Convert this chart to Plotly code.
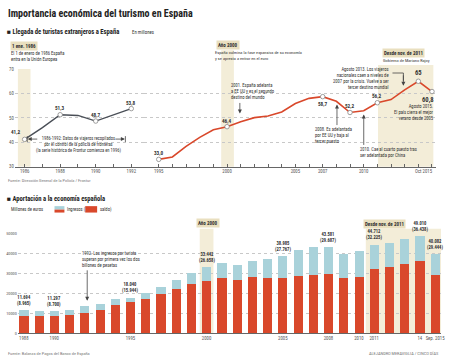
import plotly.graph_objects as go

W, H = 450, 363
def px(x): return x / W
def py(y): return 1 - y / H

# ---------------- data ----------------
years_a = [1986, 1987, 1988, 1989, 1990, 1991, 1992]
turistas_a = [41.2, 46.0, 51.3, 51.0, 48.7, 51.2, 53.8]
years_b = list(range(1995, 2016))
turistas_b = [33.0, 34.0, 38.3, 42.0, 45.1, 46.4, 48.4, 50.1, 50.8, 52.4, 55.9,
              58.0, 58.7, 56.8, 52.2, 52.9, 56.2, 57.5, 61.5, 65.0, 60.8]
lbl_years_a = [1986, 1988, 1990, 1992]
lbl_text_a = ["41,2", "51,3", "48,7", "53,8"]
lbl_years_b = [1995, 2000, 2007, 2009, 2011, 2014, 2015]
lbl_text_b = ["33,0", "46,4", "58,7", "52,2", "56,2", "65", "60,8"]
ticks_a = [1986, 1988, 1990, 1992]
ticks_b = [1995, 2000, 2005, 2007, 2010]
last_tick_b = "Oct 2015"

years_c = list(range(1988, 2016))
ingresos = [11694, 11500, 11297, 11900, 13700, 15000, 17300, 18040, 20500, 23600,
            26900, 30200, 33442, 35500, 34600, 36300, 37600, 38985, 42000, 43700,
            43581, 40100, 41400, 44712, 45500, 47500, 49010, 40082]
saldo = [8965, 8800, 8700, 9100, 10300, 11800, 14500, 15944, 17300, 19800,
         22300, 24750, 26658, 28000, 26900, 28200, 28000, 27767, 28900, 29400,
         29687, 27700, 28500, 32225, 33500, 35100, 36438, 29444]
lbl_years_c = [1988, 1990, 1995, 2000, 2005, 2008, 2011, 2014, 2015]
ticks_c = [1988, 1990, 1995, 2000, 2005, 2008, 2010, 2011, 2014, 2015]
ticktext_c = ["1988", "1990", "1995", "2000", "2005", "2008", "2010", "2011", "14", "Sep. 2015"]

# ---------------- style ----------------
FONT = "Liberation Sans Narrow, Arial Narrow, Roboto Condensed, Liberation Sans, sans-serif"
RED = "#d9482b"
BLUE = "#a9d2da"
BEIGE = "#f3edd8"
BEIGE_LBL = "#e9dfbf"
TXT = "#333333"
GRID = "#c8c8c8"
FS = 4.6

fig = go.Figure()

# top chart traces
fig.add_trace(go.Scatter(x=years_a, y=turistas_a, mode="lines", xaxis="x", yaxis="y",
                         line=dict(color="#4a4f57", width=1.4), hoverinfo="skip"))
fig.add_trace(go.Scatter(x=years_b, y=turistas_b, mode="lines", xaxis="x2", yaxis="y",
                         line=dict(color=RED, width=1.6), hoverinfo="skip"))
ma = [turistas_a[years_a.index(y)] for y in lbl_years_a]
mb = [turistas_b[years_b.index(y)] for y in lbl_years_b]
fig.add_trace(go.Scatter(x=lbl_years_a, y=ma, mode="markers", xaxis="x", yaxis="y",
                         marker=dict(size=4.5, color="white", line=dict(color="#888", width=0.8))))
fig.add_trace(go.Scatter(x=lbl_years_b, y=mb, mode="markers", xaxis="x2", yaxis="y",
                         marker=dict(size=4.5, color="white", line=dict(color="#888", width=0.8))))

# bottom chart traces
fig.add_trace(go.Bar(x=years_c, y=ingresos, xaxis="x3", yaxis="y3", width=0.6,
                     marker=dict(color=BLUE, line=dict(width=0)), name="Ingresos"))
fig.add_trace(go.Bar(x=years_c, y=saldo, xaxis="x3", yaxis="y3", width=0.6,
                     marker=dict(color=RED, line=dict(width=0)), name="saldo"))

def fmt_th(v):
    return f"{v:,}".replace(",", ".")

ann = []
def A(text, x, y, size=FS, bold=False, xa="left", ya="middle", color=TXT, bg=None, align="left"):
    t = f"<b>{text}</b>" if bold else text
    d = dict(text=t, x=px(x), y=py(y), xref="paper", yref="paper", showarrow=False,
             xanchor=xa, yanchor=ya, align=align,
             font=dict(size=size, color=color, family=FONT))
    if bg:
        d.update(bgcolor=bg, borderpad=1)
    ann.append(d)

def ARROW(x, y, ax, ay, width=0.8):
    ann.append(dict(text="", x=px(x), y=py(y), xref="paper", yref="paper", showarrow=True,
                    ax=ax, ay=ay, arrowhead=2, arrowsize=1, arrowwidth=width, arrowcolor="#444"))

# top value labels
shifts_a = {1986: (-9, 7), 1988: (0, 7), 1990: (0, 6), 1992: (0, 6)}
for yr, txt in zip(lbl_years_a, lbl_text_a):
    v = turistas_a[years_a.index(yr)]
    sx, sy = shifts_a[yr]
    ann.append(dict(text=f"<b>{txt}</b>", x=yr, y=v, xref="x", yref="y", showarrow=False,
                    xshift=sx, yshift=sy, font=dict(size=5.2, color=TXT, family=FONT)))
shifts_b = {1995: (0, 6, 5.2), 2000: (0, 6, 5.2), 2007: (0, -7, 5.2), 2009: (0, 7, 5.2),
            2011: (0, 7, 5.2), 2014: (0, 8, 6.6), 2015: (-4, -8, 6.6)}
for yr, txt in zip(lbl_years_b, lbl_text_b):
    v = turistas_b[years_b.index(yr)]
    sx, sy, fs = shifts_b[yr]
    ann.append(dict(text=f"<b>{txt}</b>", x=yr, y=v, xref="x2", yref="y", showarrow=False,
                    xshift=sx, yshift=sy, font=dict(size=fs, color=TXT, family=FONT)))

# last tick label of top chart (right aligned)
ann.append(dict(text=last_tick_b, x=2015, y=py(171.5), xref="x2", yref="paper", showarrow=False,
                xanchor="right", xshift=3, font=dict(size=4.8, color="#555", family=FONT)))

# bottom value labels
for yr in lbl_years_c:
    i = years_c.index(yr)
    ann.append(dict(text=f"<b>{fmt_th(ingresos[i])}<br>({fmt_th(saldo[i])})</b>", x=yr, y=ingresos[i],
                    xref="x3", yref="y3", showarrow=False, yanchor="bottom", yshift=1,
                    font=dict(size=4.6, color=TXT, family=FONT)))

# titles and texts
A("Importancia económica del turismo en España", 6, 12, 10, bold=True, color="#222")
A("■ Llegada de turistas extranjeros a España", 5, 30, 6.6, bold=True, color="#222")
A("En millones", 131, 30.5, 4.8)
A("1 ene. 1986", 10, 45, 5, bold=True, bg=BEIGE_LBL)
A("El 1 de enero de 1986 España<br>entra en la Unión Europea", 9, 55, FS)
A("Año 2000", 218, 44, 5, bold=True, bg=BEIGE_LBL)
A("España culmina la fase expansiva de su economía<br>y se apresta a entrar en el euro", 215, 54.5, 4.4)
A("Desde nov. de 2011", 385, 52, 5, bold=True, bg=BEIGE_LBL)
A("Gobierno de Mariano Rajoy", 384, 59.5, 4.4)
A("Agosto 2013. Los viajeros<br>nacionales caen a niveles de<br>2007 por la crisis. Vuelve a ser<br>tercer destino mundial",
  395, 78, FS, xa="right", align="right")
A("Agosto 2015.<br>El país cierra el mejor<br>verano desde 2005", 440, 112.5, FS, xa="right", align="right")
A("2008. Es adelantada<br>por EE UU y baja al<br>tercer puesto", 316, 135, FS)
A("2010. Cae al cuarto puesto tras<br>ser adelantada por China", 361, 152.5, FS)
A("2001. España adelanta<br>a EE UU y es el segundo<br>destino del mundo", 231, 90.5, FS)
A("1986-1992: Datos de viajeros recopilados<br>por el control de la policía de fronteras<br>(la serie histórica de Frontur comienza en 1996)",
  79, 144.5, 4.5, xa="center", align="center")
A("Fuente: Dirección General de la Policía / Frontur", 6, 181, 4.4, color="#777")

A("■ Aportación a la economía española", 5, 200, 6.6, bold=True, color="#222")
A("Millones de euros", 9, 210.5, FS)
A("Ingresos (", 66, 210.5, FS)
A("saldo)", 99, 210.5, FS)
A("Año 2000", 210, 224, 5, bold=True, xa="center", bg=BEIGE_LBL)
A("Desde nov. de 2011", 388, 225, 5, bold=True, xa="center", bg=BEIGE_LBL)
A("1992. Los ingresos por turista<br>superan por primera vez los dos<br>billones de pesetas", 81, 261.5, FS)
A("Fuente: Balanza de Pagos del Banco de España", 6, 356, 4.4, color="#777")
A("ALEJANDRO MERAVIGLIA / CINCO DÍAS", 445, 356, 4.4, xa="right", color="#777")

# arrows
ARROW(242, 113, 0, -12)
ARROW(340, 104, 0, 22)
ARROW(367, 114, 0, 32)
ARROW(407, 85, 0, -12)
ARROW(88, 303, 0, -32)
ARROW(28, 139, 11, 0)
ARROW(126, 139, -11, 0)

shapes = []
# bands top
shapes.append(dict(type="rect", xref="x", yref="y", x0=1985.62, x1=1986.33, y0=30, y1=70,
                   fillcolor=BEIGE, line=dict(width=0), layer="below"))
shapes.append(dict(type="rect", xref="x2", yref="paper", x0=1999.57, x1=2000.5, y0=py(167), y1=py(49),
                   fillcolor=BEIGE, line=dict(width=0), layer="below"))
shapes.append(dict(type="rect", xref="x2", yref="paper", x0=2011.05, x1=2015.1, y0=py(167), y1=py(64),
                   fillcolor=BEIGE, line=dict(width=0), layer="below"))
# bands bottom
shapes.append(dict(type="rect", xref="x3", yref="paper", x0=1999.55, x1=2000.45, y0=py(336), y1=py(230),
                   fillcolor=BEIGE, line=dict(width=0), layer="below"))
shapes.append(dict(type="rect", xref="x3", yref="paper", x0=2010.45, x1=2015.39, y0=py(336), y1=py(230),
                   fillcolor=BEIGE, line=dict(width=0), layer="below"))
# bracket line 2013
shapes.append(dict(type="path", xref="paper", yref="paper",
                   path=f"M {px(396)} {py(72)} L {px(407)} {py(72)} L {px(407)} {py(80)}",
                   line=dict(color="#444", width=0.8)))
# bracket bars 1986-1992
for xb in (27.5, 126.5):
    shapes.append(dict(type="line", xref="paper", yref="paper", x0=px(xb), x1=px(xb),
                       y0=py(136), y1=py(142), line=dict(color="#444", width=0.8)))
# legend swatches
shapes.append(dict(type="rect", xref="paper", yref="paper", x0=px(55), x1=px(65), y0=py(207), y1=py(210.5),
                   fillcolor=BLUE, line=dict(width=0)))
shapes.append(dict(type="rect", xref="paper", yref="paper", x0=px(55), x1=px(65), y0=py(210.5), y1=py(213.5),
                   fillcolor=RED, line=dict(width=0)))
shapes.append(dict(type="rect", xref="paper", yref="paper", x0=px(86), x1=px(98), y0=py(207), y1=py(213.5),
                   fillcolor=RED, line=dict(width=0)))

tick_font = dict(size=4.8, color="#555", family=FONT)

fig.update_layout(
    width=W, height=H, margin=dict(l=0, r=0, t=0, b=0),
    paper_bgcolor="white", plot_bgcolor="rgba(0,0,0,0)",
    showlegend=False, barmode="overlay", bargap=0,
    font=dict(family=FONT, color=TXT),
    annotations=ann, shapes=shapes,
    xaxis=dict(domain=[px(15), px(145)], range=[1985.45, 1992.7], anchor="y",
               tickvals=list(range(1986, 1993)),
               ticktext=[str(y) if y in ticks_a else "" for y in range(1986, 1993)],
               ticks="inside", ticklen=2.5, tickcolor="#666", tickwidth=0.6,
               showline=True, linecolor="#666", linewidth=0.8, showgrid=False, zeroline=False,
               tickfont=tick_font),
    xaxis2=dict(domain=[px(145), px(440)], range=[1993.9, 2015.3], anchor="y",
                tickvals=years_b,
                ticktext=[str(y) if y in ticks_b else "" for y in years_b],
                ticks="inside", ticklen=2.5, tickcolor="#666", tickwidth=0.6,
                showline=True, linecolor="#666", linewidth=0.8, showgrid=False, zeroline=False,
                tickfont=tick_font),
    yaxis=dict(domain=[py(167), py(68)], range=[30, 70], anchor="x",
               tickvals=[30, 40, 50, 60, 70], showgrid=True, gridcolor=GRID, griddash="dot",
               gridwidth=0.6, zeroline=False, showline=False, ticks="", tickfont=tick_font),
    xaxis3=dict(domain=[px(18), px(445)], range=[1987.61, 2015.39], anchor="y3",
                tickvals=ticks_c, ticktext=ticktext_c, ticks="", showline=True,
                linecolor="#666", linewidth=0.8, showgrid=False, zeroline=False, tickfont=tick_font),
    yaxis3=dict(domain=[py(336), py(235)], range=[0, 50000], anchor="x3",
                tickvals=[0, 10000, 20000, 30000, 40000, 50000], tickformat="d",
                showgrid=True, gridcolor=GRID, griddash="dot", gridwidth=0.6,
                zeroline=False, showline=False, ticks="", tickfont=dict(size=4.3, color="#555", family=FONT)),
)

fig.write_html("out.html", config={"displayModeBar": False},
               post_script="document.body.style.margin='0';document.body.style.overflow='hidden';")
